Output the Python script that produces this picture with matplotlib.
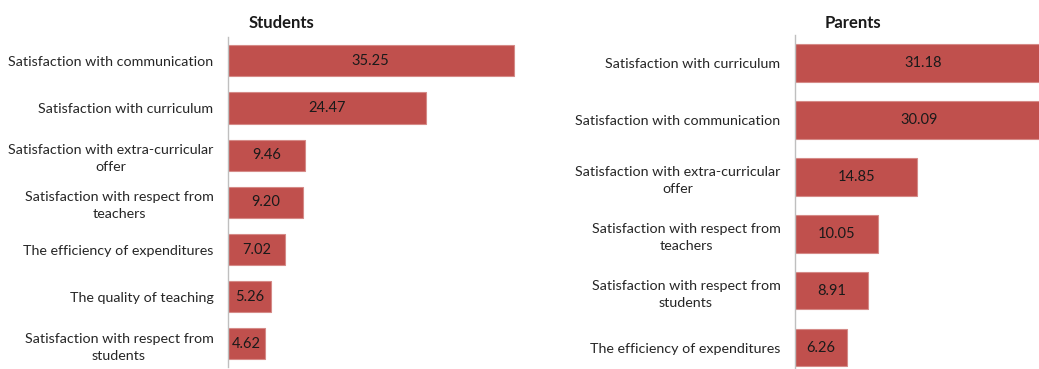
import matplotlib
matplotlib.use("Agg")
import matplotlib.pyplot as plt

plt.rcParams['font.family'] = ['Lato', 'DejaVu Sans']

# Students panel
students_labels = [
    "Satisfaction with communication",
    "Satisfaction with curriculum",
    "Satisfaction with extra-curricular\noffer",
    "Satisfaction with respect from\nteachers",
    "The efficiency of expenditures",
    "The quality of teaching",
    "Satisfaction with respect from\nstudents",
]
students_values = [35.25, 24.47, 9.46, 9.20, 7.02, 5.26, 4.62]

# Parents panel
parents_labels = [
    "Satisfaction with curriculum",
    "Satisfaction with communication",
    "Satisfaction with extra-curricular\noffer",
    "Satisfaction with respect from\nteachers",
    "Satisfaction with respect from\nstudents",
    "The efficiency of expenditures",
]
parents_values = [31.18, 30.09, 14.85, 10.05, 8.91, 6.26]

W, H = 1039, 369
fig = plt.figure(figsize=(W / 100, H / 100), dpi=100)

BAR_COLOR = "#C0504D"
EDGE_COLOR = "#D58A87"
AXIS_COLOR = "#BFBFBF"
TEXT_COLOR = "#262626"


def panel(rect, labels, values, xmax, title, title_x):
    ax = fig.add_axes(rect)
    pos = list(range(len(values)))
    ax.barh(pos, values, height=0.66, color=BAR_COLOR,
            edgecolor=EDGE_COLOR, linewidth=0.8)
    ax.set_ylim(len(values) - 0.5, -0.5)
    ax.set_xlim(0, xmax)
    ax.set_yticks(pos)
    ax.set_yticklabels(labels, fontsize=10.3, color=TEXT_COLOR)
    for t in ax.get_yticklabels():
        t.set_multialignment('center')
        t.set_linespacing(1.5)
    ax.tick_params(axis='y', length=0, pad=10.5)
    ax.set_xticks([])
    for s in ("top", "right", "bottom"):
        ax.spines[s].set_visible(False)
    ax.spines["left"].set_color(AXIS_COLOR)
    ax.spines["left"].set_linewidth(1.0)
    for p, v in zip(pos, values):
        ax.text(v / 2, p, f"{v:.2f}", ha="center", va="center",
                fontsize=10.5, color="#1a1a1a")
    fig.text(title_x / W, 1 - 23 / H, title, ha="center", va="center",
             fontsize=12, fontweight="bold", color="#1a1a1a")
    return ax


# left panel: axis at x=228 px, 8.1 px per unit
left_x = 228
left_scale = 8.1
left_xmax = 38
panel([left_x / W, 1 - 367.4 / H, left_xmax * left_scale / W, 330.1 / H],
      students_labels, students_values, left_xmax, "Students", 281)

# right panel: axis at x=795 px, 8.24 px per unit (runs past the edge)
right_x = 795
right_scale = 8.24
right_xmax = 40
panel([right_x / W, 1 - 376 / H, right_xmax * right_scale / W, 341.3 / H],
      parents_labels, parents_values, right_xmax, "Parents", 853)

fig.savefig("out.png", dpi=100)
